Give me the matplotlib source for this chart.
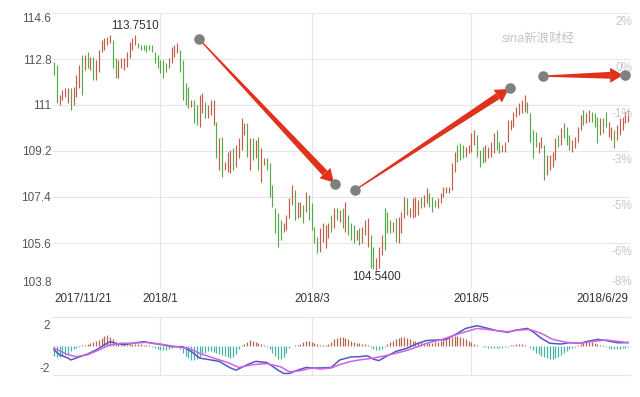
import numpy as np
import matplotlib.pyplot as plt
from matplotlib.patches import Polygon

plt.rcParams['font.family'] = ['Liberation Sans', 'DejaVu Sans']

# daily bars (high / low, r = up day, g = down day)
hi = [112.68, 112.57, 111.39, 111.59, 111.67, 111.67, 111.67, 111.70, 112.17, 112.57,
      112.96, 112.96, 113.07, 112.88, 112.88, 112.76, 113.15, 113.54, 113.62, 113.66,
      113.72, 113.54, 112.84, 112.76, 112.84, 112.84, 113.07, 113.47, 113.62, 113.751,
      113.43, 113.35, 113.35, 113.35, 113.35, 113.35, 113.07, 112.96, 112.76, 112.76,
      112.64, 112.84, 113.27, 113.35, 113.43, 113.15, 112.76, 111.86, 111.70, 111.20,
      111.20, 111.00, 111.39, 111.47, 111.12, 111.00, 111.20, 111.20, 110.33, 109.71,
      109.75, 108.77, 109.16, 109.24, 109.32, 109.43, 109.71, 110.49, 110.30, 110.30,
      109.71, 109.71, 109.63, 109.75, 109.32, 108.93, 108.93, 108.73, 107.87, 106.97,
      106.77, 106.50, 106.38, 106.70, 107.36, 107.87, 107.67, 107.20, 107.20, 107.09,
      107.60, 107.48, 107.17, 106.23, 105.83, 106.19, 106.38, 106.30, 106.38, 106.70,
      106.97, 106.97, 106.89, 106.97, 107.20, 106.70, 106.38, 106.30, 106.11, 106.19,
      106.23, 106.50, 106.58, 105.92, 105.44, 105.01, 105.44, 105.92, 106.97, 106.81,
      106.50, 106.42, 106.58, 106.62, 106.81, 107.40, 107.36, 106.97, 107.36, 107.40,
      107.28, 107.40, 107.48, 107.75, 107.56, 107.40, 107.28, 107.36, 107.56, 107.79,
      107.79, 107.79, 108.73, 109.16, 109.43, 109.51, 109.43, 109.36, 109.43, 109.90,
      110.02, 109.83, 109.24, 109.36, 109.43, 109.36, 109.55, 109.90, 110.02, 109.55,
      109.43, 109.55, 110.41, 110.41, 110.73, 110.92, 111.08, 111.20, 111.39, 111.12,
      110.69, 110.02, 109.94, 109.55, 109.75, 109.43, 109.04, 109.04, 109.16, 109.71,
      109.83, 110.10, 110.30, 110.14, 109.83, 109.63, 109.75, 110.14, 110.61, 110.80,
      110.69, 110.80, 110.73, 110.69, 110.53, 110.49, 110.49, 110.73, 110.33, 110.14,
      110.02, 110.22, 110.49, 110.53, 110.73, 110.80]
lo = [112.17, 111.08, 111.00, 111.20, 111.31, 111.08, 110.80, 111.00, 111.31, 111.67,
      111.39, 112.37, 112.45, 112.37, 111.98, 111.98, 112.29, 113.07, 113.15, 113.35,
      113.43, 112.45, 112.06, 112.06, 112.45, 112.37, 112.49, 112.84, 113.15, 113.35,
      113.23, 113.15, 113.15, 113.07, 113.15, 113.07, 112.64, 112.45, 112.25, 112.06,
      112.29, 112.45, 112.64, 112.88, 113.03, 112.29, 111.20, 111.00, 110.88, 110.92,
      110.30, 110.22, 110.14, 110.69, 110.49, 110.49, 110.61, 110.22, 108.93, 108.46,
      108.18, 108.46, 108.38, 108.34, 108.46, 108.57, 108.93, 109.24, 109.83, 108.97,
      108.46, 108.85, 108.93, 108.46, 107.99, 108.65, 108.46, 107.40, 107.01, 105.99,
      105.44, 105.72, 106.03, 106.11, 106.58, 107.09, 106.50, 106.58, 106.62, 106.38,
      106.81, 106.50, 106.11, 105.60, 105.21, 105.25, 105.64, 105.40, 105.80, 106.03,
      106.19, 106.50, 106.42, 106.19, 106.03, 105.92, 105.72, 105.60, 105.72, 105.52,
      105.60, 105.92, 105.44, 104.62, 104.58, 104.54, 104.62, 105.13, 105.33, 105.99,
      105.99, 106.03, 105.64, 105.60, 105.99, 106.58, 106.70, 106.62, 106.58, 106.62,
      106.70, 106.97, 107.01, 107.17, 107.01, 106.81, 107.01, 106.97, 107.17, 107.40,
      107.56, 107.56, 107.67, 108.38, 108.77, 108.85, 108.93, 108.97, 109.12, 109.16,
      109.43, 108.97, 108.57, 108.73, 108.77, 108.93, 108.97, 109.12, 109.24, 109.12,
      109.16, 109.16, 109.55, 110.02, 110.14, 110.53, 110.61, 110.69, 110.73, 110.69,
      109.55, 108.93, 109.36, 109.12, 109.32, 108.07, 108.26, 108.46, 108.57, 108.85,
      109.36, 109.43, 109.71, 109.43, 109.24, 109.16, 109.32, 109.55, 110.02, 110.22,
      110.30, 110.33, 110.33, 110.14, 109.51, 109.83, 109.90, 110.14, 109.75, 109.63,
      109.32, 109.63, 109.83, 110.02, 110.30, 110.33]
updown = ("ggrrrrgrrr" "grgrgrrrrr" "rggrrrrrrr" "gggggggggg" "grrrrggggr"
          "ggrrgrrrgr" "grrrgrrrrg" "rgrgrrgggg" "ggrrrrgrrg" "rggggrrrrg"
          "rgrgrgggrg" "rrrggrrrgg" "grgrrrgrrr" "rgrrgggrrr" "rrrrgggrrr"
          "rgggrrrrgg" "rrrrrrrrrg" "gggrrgrrrr" "grgggrrrrg" "rrgggrggrr"
          "grrrrr")

date_pos = [0, 38, 92, 149, 205]
date_labels = ['2017/11/21', '2018/1', '2018/3', '2018/5', '2018/6/29']
price_ticks = [103.8, 105.6, 107.4, 109.2, 111, 112.8, 114.6]
price_labels = ['103.8', '105.6', '107.4', '109.2', '111', '112.8', '114.6']
pct_labels = ['-8%', '-6%', '-5%', '-3%', '-1%', '0%', '2%']

# MACD histogram, one value per bar
macd_hist = [-0.9, -1.0, -1.0, -0.9, -0.8, -0.7, -0.5, -0.3, -0.15, -0.05,
             0.05, 0.1, 0.2, 0.3, 0.35, 0.45, 0.55, 0.75, 0.9, 1.0,
             0.85, 0.6, 0.35, 0.15, 0.05, 0.05, 0.1, 0.15, 0.2, 0.2,
             0.15, 0.15, 0.1, 0.1, 0.05, -0.05, -0.15, -0.25, -0.35, -0.4,
             -0.4, -0.3, -0.2, -0.1, -0.05, -0.3, -0.6, -0.9, -1.1, -1.3,
             -1.3, -1.2, -1.0, -0.8, -0.6, -0.5, -0.5, -0.55, -0.6, -0.7,
             -0.8, -0.9, -1.0, -1.1, -1.0, -0.7, -0.3, 0.05, 0.2, 0.4,
             0.55, 0.5, 0.4, 0.3, 0.15, 0.05, -0.1, -0.3, -0.6, -0.9,
             -1.2, -1.2, -1.0, -0.6, -0.2, 0.02, 0.05, 0.1, 0.2, 0.4,
             0.5, 0.45, 0.35, 0.25, 0.15, 0.1, 0.05, 0.1, 0.2, 0.4,
             0.6, 0.75, 0.8, 0.8, 0.7, 0.6, 0.5, 0.4, 0.3, 0.25,
             0.2, 0.15, 0.1, -0.05, -0.25, -0.4, -0.4, -0.3, -0.1, 0.2,
             0.4, 0.5, 0.6, 0.7, 0.8, 0.8, 0.75, 0.6, 0.5, 0.45,
             0.4, 0.35, 0.3, 0.3, 0.25, 0.3, 0.35, 0.4, 0.5, 0.6,
             0.7, 0.8, 0.85, 0.9, 0.9, 0.85, 0.75, 0.6, 0.5, 0.35,
             0.2, 0.1, 0.02, -0.05, -0.1, -0.15, -0.2, -0.2, -0.2, -0.2,
             -0.15, -0.1, -0.05, 0.05, 0.1, 0.15, 0.2, 0.15, 0.1, 0.02,
             -0.2, -0.4, -0.6, -0.75, -0.9, -1.0, -1.1, -1.2, -1.2, -1.1,
             -1.0, -0.8, -0.6, -0.45, -0.3, -0.15, -0.05, 0.05, 0.15, 0.25,
             0.35, 0.4, 0.35, 0.3, 0.2, 0.1, 0.05, -0.1, -0.2, -0.25,
             -0.3, -0.3, -0.25, -0.2, -0.15, -0.1]

dif_pos = [0, 2, 5, 6, 9, 12, 15, 18, 20, 22, 25, 28, 32, 35, 39, 42, 46, 49, 52, 56,
           59, 63, 65, 69, 72, 76, 80, 82, 84, 87, 90, 92, 95, 99, 102, 106, 109, 112,
           114, 116, 119, 122, 126, 130, 133, 137, 140, 144, 147, 151, 155, 158, 162,
           165, 169, 171, 174, 177, 181, 184, 188, 190, 194, 197, 201, 204, 205]
dif = [-0.36, -0.8, -1.1, -1.27, -1.0, -0.73, -0.36, 0.1, 0.4, 0.25, 0.1, 0.25, 0.4,
       0.25, 0.1, -0.06, -0.06, -0.5, -1.1, -1.27, -1.4, -2.0, -2.2, -1.7, -1.4, -1.5,
       -2.2, -2.5, -2.5, -2.2, -1.95, -2.0, -2.0, -1.95, -1.27, -1.0, -0.97, -0.9, -1.2,
       -1.33, -0.9, -0.5, -0.2, 0.25, 0.5, 0.55, 0.6, 1.15, 1.6, 1.85, 1.6, 1.4, 1.25,
       1.45, 1.6, 1.3, 0.7, 0.25, 0.18, 0.3, 0.25, 0.4, 0.6, 0.5, 0.3, 0.3, 0.33]
dea_pos = [0, 5, 8, 12, 16, 20, 24, 28, 33, 38, 42, 48, 52, 57, 62, 66, 71, 76, 81, 84,
           88, 92, 95, 99, 102, 106, 109, 114, 118, 121, 126, 130, 133, 138, 142, 147,
           151, 155, 158, 162, 166, 170, 174, 178, 183, 188, 192, 197, 202, 205]
dea = [-0.2, -0.8, -0.97, -0.8, -0.36, 0.1, 0.25, 0.25, 0.33, 0.18, 0.0, -0.2, -0.67,
       -1.1, -1.5, -1.95, -1.7, -1.6, -1.9, -2.35, -2.25, -2.0, -2.1, -2.0, -1.7, -1.4,
       -1.27, -1.1, -0.9, -0.73, -0.4, -0.05, 0.25, 0.55, 0.9, 1.3, 1.6, 1.5, 1.4, 1.3,
       1.45, 1.5, 1.15, 0.6, 0.33, 0.25, 0.4, 0.55, 0.4, 0.3]

# hand drawn arrows (start dot -> end dot)
arrow_x0 = [51.8, 107.5, 174.6]
arrow_y0 = [113.58, 107.67, 112.13]
arrow_x1 = [100.4, 162.9, 203.9]
arrow_y1 = [107.91, 111.67, 112.17]

RED = '#bd5f4b'
GREEN = '#56a948'
ARROW = '#df311b'
GRID = '#e6e6e6'

hi = np.array(hi)
lo = np.array(lo)
n = len(hi)
x = np.arange(n)
up = np.array([c == 'r' for c in updown])

fig = plt.figure(figsize=(6.4, 3.97), dpi=100)
ax = fig.add_axes([52.6 / 640, 1 - 289 / 397, 577 / 640, 276 / 397])
ax2 = fig.add_axes([52.6 / 640, 1 - 375 / 397, 577 / 640, 58 / 397])

ax.set_xlim(-0.5, n - 0.5)
ax.set_ylim(103.8, 114.6)
ax.vlines(x[up], lo[up], hi[up], color=RED, lw=0.85, zorder=3)
ax.vlines(x[~up], lo[~up], hi[~up], color=GREEN, lw=0.85, zorder=3)

for s in ax.spines.values():
    s.set_visible(False)
ax.set_yticks(price_ticks)
ax.set_yticklabels(price_labels)
ax.grid(axis='y', color=GRID, lw=0.8)
for p in date_pos[1:-1]:
    ax.axvline(p, color=GRID, lw=0.8, zorder=0)
ax.set_xticks(date_pos)
ax.set_xticklabels(date_labels)
ax.tick_params(axis='y', length=0, pad=1, labelsize=8.5, labelcolor='#555555')
ax.tick_params(axis='x', length=0, pad=3, labelsize=8.4, labelcolor='#333333')
ylab = ax.get_yticklabels()
ylab[0].set_va('bottom')
ylab[-1].set_va('top')
xlab = ax.get_xticklabels()
xlab[0].set_ha('left')
xlab[-1].set_ha('right')

for i, (lev, lab) in enumerate(zip(price_ticks, pct_labels)):
    if i == 0:
        ax.annotate(lab, xy=(1.0, lev), xycoords=('axes fraction', 'data'),
                    xytext=(2, 1), textcoords='offset points', ha='right', va='bottom',
                    fontsize=8.5, color='#c8c8c8')
    else:
        ax.annotate(lab, xy=(1.0, lev), xycoords=('axes fraction', 'data'),
                    xytext=(2, -2), textcoords='offset points', ha='right', va='top',
                    fontsize=8.5, color='#c8c8c8')

ax.text(0.779, 0.906, 'sina新浪财经', transform=ax.transAxes, ha='left', va='center',
        fontsize=9, style='italic', color='#c4c4c4',
        family=['Liberation Sans', 'Noto Sans CJK SC'])

imax = int(np.argmax(hi))
imin = int(np.argmin(lo))
ax.annotate(f'{hi[imax]:.4f}', xy=(imax, hi[imax]), xytext=(0, 2), textcoords='offset points',
            ha='center', va='bottom', fontsize=8.4, color='#333333')
ax.annotate(f'{lo[imin]:.4f}', xy=(imin, lo[imin]), xytext=(0, -1), textcoords='offset points',
            ha='center', va='top', fontsize=8.4, color='#333333')

# tapered red arrows, built in pixel space then mapped back to data
inv = ax.transData.inverted()
for x0, y0, x1, y1 in zip(arrow_x0, arrow_y0, arrow_x1, arrow_y1):
    p0 = ax.transData.transform((x0, y0))
    p1 = ax.transData.transform((x1, y1))
    d = p1 - p0
    u = d / np.hypot(*d)
    nv = np.array([-u[1], u[0]])
    tip = p1 - u * 2
    base = tip - u * 13
    body = [p0 + nv * 0.6, base + nv * 3.4, base - nv * 3.4, p0 - nv * 0.6]
    head = [tip, base + nv * 7.5, base - nv * 7.5]
    ax.add_patch(Polygon(inv.transform(body), closed=True, color=ARROW, lw=0, zorder=6))
    ax.add_patch(Polygon(inv.transform(head), closed=True, color=ARROW, lw=0, zorder=6))
ax.scatter(arrow_x0 + arrow_x1, arrow_y0 + arrow_y1, s=58, color='#808080', zorder=7,
           linewidths=0)

# MACD panel
hist = np.array(macd_hist)
ax2.set_xlim(-0.5, n - 0.5)
ax2.set_ylim(-2.64, 2.64)
ax2.vlines(x[hist >= 0], 0, hist[hist >= 0], color='#b0664e', lw=0.9)
ax2.vlines(x[hist < 0], 0, hist[hist < 0], color='#45b3a6', lw=0.9)
ax2.plot(dif_pos, dif, color='#4f5ac4', lw=1.1)
ax2.plot(dea_pos, dea, color='#d062e0', lw=1.1)
for p in date_pos[1:-1]:
    ax2.axvline(p, color=GRID, lw=0.8, zorder=0)
for k in ['left', 'right']:
    ax2.spines[k].set_visible(False)
for k in ['top', 'bottom']:
    ax2.spines[k].set_color(GRID)
    ax2.spines[k].set_linewidth(0.8)
ax2.set_xticks([])
ax2.set_yticks([2, -2])
ax2.set_yticklabels(['2', '-2'])
ax2.tick_params(axis='y', length=0, pad=2, labelsize=8.5, labelcolor='#555555')

fig.savefig('out.png', dpi=100, facecolor='white')
